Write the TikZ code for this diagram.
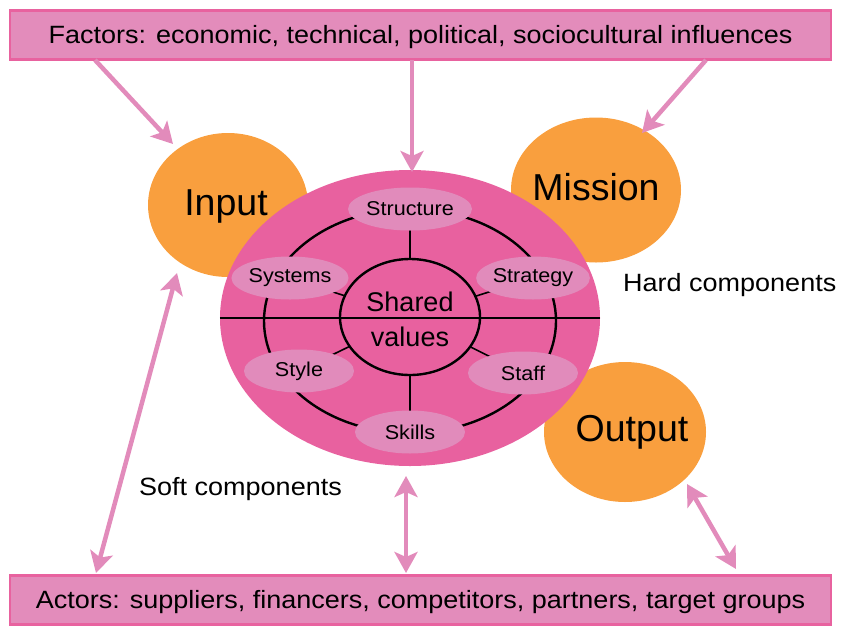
\documentclass[tikz,border=0pt]{standalone}
\usepackage{fontspec}
\setmainfont{Liberation Sans}[FakeStretch=1.08]
\newfontfamily\plainsans{Liberation Sans}
\usetikzlibrary{arrows.meta,shapes.geometric}
\definecolor{boxfill}{HTML}{E38CBB}
\definecolor{boxline}{HTML}{E8629F}
\definecolor{bigpink}{HTML}{E8619F}
\definecolor{smallpink}{HTML}{E18BBB}
\definecolor{orng}{HTML}{F99F3E}
\definecolor{arr}{HTML}{E28BBB}
\tikzset{
  bar/.style={draw=boxline,fill=boxfill,line width=2.5pt,minimum width=821pt,minimum height=49pt,inner sep=0pt},
  barfont/.style={font=\fontsize{25}{28}\selectfont},
  bartext/.style={barfont,inner sep=0pt},
  blob/.style={ellipse,fill=orng,inner sep=0pt},
  bigtext/.style={font=\plainsans\fontsize{37.5}{42}\selectfont,inner sep=0pt},
  comp/.style={ellipse,fill=smallpink,minimum width=110pt,minimum height=43pt,inner sep=0pt,font=\fontsize{20}{22}\selectfont},
  pinkarrow/.style={draw=arr,line width=4.5pt,-{Stealth[length=21pt,width=23pt,inset=5pt]}},
  pinkdouble/.style={draw=arr,line width=4.5pt,{Stealth[length=21pt,width=23pt,inset=5pt]}-{Stealth[length=21pt,width=23pt,inset=5pt]}},
  ringline/.style={draw=black,line width=2.4pt},
  thinline/.style={draw=black,line width=1.6pt},
  plain/.style={font=\fontsize{25}{28}\selectfont}
}
\begin{document}
\begin{tikzpicture}[x=1pt,y=-1pt]
\useasboundingbox (0,0) rectangle (850,632);
% boxes
\node[bar] (factors) at (420.5,35) {};
\node[bar] (actors) at (420.5,600) {};
\node[bartext] (factorstext) at (420.5,37) {Factors: economic, technical, political, sociocultural influences};
\node[bartext] (actorstext) at (420.5,602) {Actors: suppliers, financers, competitors, partners, target groups};
% orange blobs
\node[blob,minimum width=160pt,minimum height=144pt] (input) at (228,205) {};
\node[blob,minimum width=170pt,minimum height=145pt] (mission) at (596,190) {};
\node[blob,minimum width=162pt,minimum height=140pt] (output) at (625,432) {};
\node[bigtext] (inputtext) at (226,206) {Input};
\node[bigtext] (missiontext) at (596,187) {Mission};
\node[bigtext] (outputtext) at (632,432) {Output};
% big ellipse
\node[ellipse,fill=bigpink,minimum width=380pt,minimum height=296pt,inner sep=0pt] (big) at (410,318) {};
% ring
\node[ellipse,ringline,minimum width=292pt,minimum height=224pt,inner sep=0pt] (ring) at (410,321) {};
% component positions
\coordinate (cstructure) at (410,209);
\coordinate (csystems) at (290,278);
\coordinate (cstrategy) at (533,278);
\coordinate (cstyle) at (299,371);
\coordinate (cstaff) at (523,373);
\coordinate (cskills) at (410,432);
\coordinate (center) at (410,317);
\foreach \c in {cstructure,csystems,cstrategy,cstyle,cstaff,cskills}
  \draw[thinline] (center) -- (\c);
% inner circle
\node[ellipse,ringline,fill=bigpink,minimum width=140pt,minimum height=116pt,inner sep=0pt] (inner) at (center) {};
\draw[thinline] (big.west) -- (big.east);
% components
\node[comp] (structure) at (cstructure) {Structure};
\node[comp] (systems) at (csystems) {Systems};
\node[comp] (strategy) at (cstrategy) {Strategy};
\node[comp] (style) at (cstyle) {Style};
\node[comp] (staff) at (cstaff) {Staff};
\node[comp] (skills) at (cskills) {Skills};
\node[align=center,font=\plainsans\fontsize{27}{35}\selectfont,inner sep=0pt] (shared) at (410,319) {Shared\\values};
% labels
\node[plain,anchor=west,inner sep=0pt] (hard) at (623,285) {Hard components};
\node[plain,anchor=west,inner sep=0pt] (soft) at (139,489) {Soft components};
% arrow end coordinates
\coordinate (a1s) at (95,60);
\coordinate (a1e) at (173,144);
\coordinate (a2s) at (412,60);
\coordinate (a2e) at (412,172);
\coordinate (a3s) at (706,60);
\coordinate (a3e) at (642,133);
\coordinate (d1s) at (177,273);
\coordinate (d1e) at (96,573);
\coordinate (d2s) at (406,476);
\coordinate (d2e) at (406,573);
\coordinate (d3s) at (687,484);
\coordinate (d3e) at (736,569);
\draw[pinkarrow] (a1s) -- (a1e);
\draw[pinkarrow] (a2s) -- (a2e);
\draw[pinkarrow] (a3s) -- (a3e);
\draw[pinkdouble] (d1s) -- (d1e);
\draw[pinkdouble] (d2s) -- (d2e);
\draw[pinkdouble] (d3s) -- (d3e);
\end{tikzpicture}
\end{document}
